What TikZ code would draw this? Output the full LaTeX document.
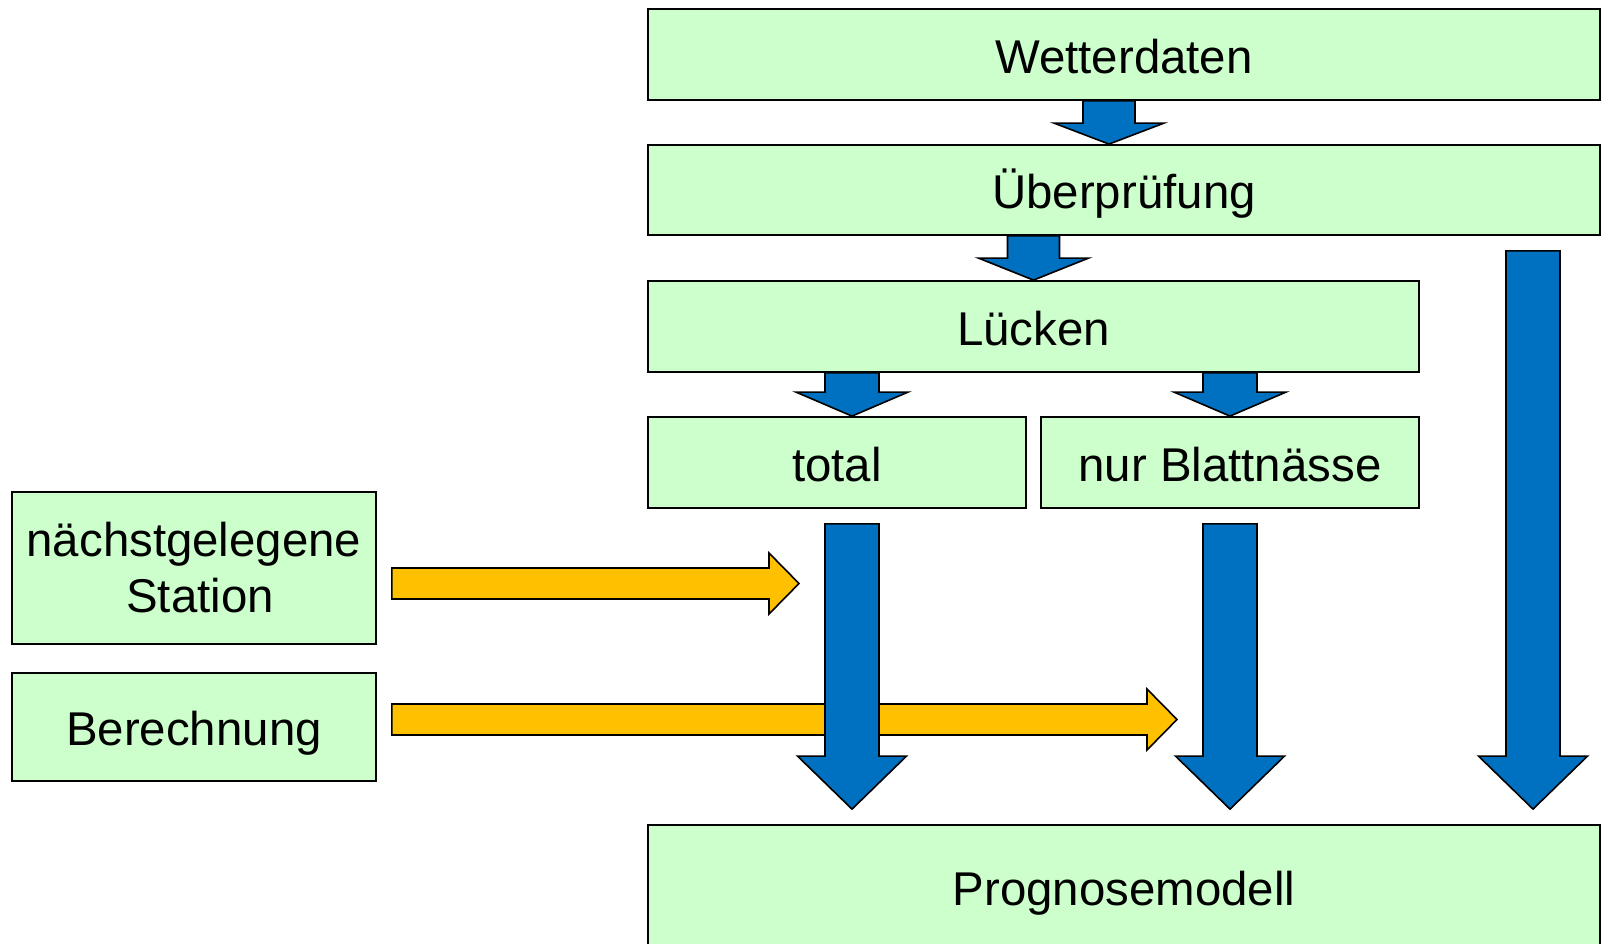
\documentclass[tikz,border=0pt]{standalone}
\usepackage{fontspec}
\setmainfont{Liberation Sans}
\usepackage{tikz}
\usetikzlibrary{calc, positioning}
\definecolor{green1}{RGB}{204,255,204}
\definecolor{blue1}{RGB}{0,112,192}
\definecolor{orange1}{RGB}{255,192,0}
% block arrow pointing down: style, start, tip, half shaft, half head, head length
\newcommand{\blockdown}[6]{%
  \path[#1] let \p1=(#2), \p2=(#3) in
    (\x1-#4,\y1) -- (\x1-#4,\y2+#6) -- (\x1-#5,\y2+#6) -- (\x1,\y2)
    -- (\x1+#5,\y2+#6) -- (\x1+#4,\y2+#6) -- (\x1+#4,\y1) -- cycle;}
% block arrow pointing right: style, start, tip, half shaft, half head, head length
\newcommand{\blockright}[6]{%
  \path[#1] let \p1=(#2), \p2=(#3) in
    (\x1,\y1+#4) -- (\x2-#6,\y1+#4) -- (\x2-#6,\y1+#5) -- (\x2,\y1)
    -- (\x2-#6,\y1-#5) -- (\x2-#6,\y1-#4) -- (\x1,\y1-#4) -- cycle;}

\begin{document}
\begin{tikzpicture}[x=0.5pt, y=-0.5pt,
    boxbase/.style={draw=black, fill=green1, line width=0.9pt, inner sep=0pt,
      font=\fontsize{23.7pt}{28pt}\selectfont, minimum width=476pt, minimum height=45.5pt},
    box/.style={boxbase, text height=21.5pt, text depth=3pt},
    halfbox/.style={box, minimum width=189pt},
    sidebox/.style={boxbase, minimum width=182pt, align=center},
    bluearrow/.style={draw=black, fill=blue1, line width=0.8pt, line join=miter},
    orangearrow/.style={draw=black, fill=orange1, line width=0.8pt, line join=miter}
]
    \useasboundingbox (0,0) rectangle (1602,943);

    % \draw [help lines,step=50] (0,0) grid (1602,943);

    \node[box, name=wetter] at(1124,54.5) {Wetterdaten};
    \node[box, name=pruef, minimum height=45pt] at(1124,190) {Überprüfung};
    \node[box, name=luecken, minimum width=385.5pt] at(1033.5,326.5) {Lücken};
    \node[halfbox, name=total] at(837,462.5) {total};
    \node[halfbox, name=blatt] at(1230,462.5) {nur Blattnässe};
    \node[sidebox, name=station, minimum height=76pt] at(194,568) {nächstgelegene\\\hspace*{6pt}Station};
    \node[sidebox, box, name=berech, minimum width=182pt, minimum height=54pt] at(194,727) {Berechnung};
    \node[box, name=prog, minimum height=62pt] at(1124,887) {Prognosemodell};

    \coordinate (c1) at (1109,0);
    \coordinate (ctot) at (852,0);
    \coordinate (cright) at (1533,0);

    % yellow arrows first, the blue ones lie on top
    \blockright{orangearrow}{$(station.east)+(15,15.5)$}{$(ctot)+(-53,0)$}{7.75pt}{15.25pt}{15pt}
    \blockright{orangearrow}{$(berech.east)+(15,-7.5)$}{$(blatt.center)+(-53,0)$}{7.75pt}{15.25pt}{15pt}

    \blockdown{bluearrow}{wetter.south -| c1}{pruef.north -| c1}{13pt}{27.5pt}{10.5pt}
    \blockdown{bluearrow}{pruef.south -| luecken}{luecken.north}{13pt}{27.5pt}{11pt}
    \blockdown{bluearrow}{luecken.south -| ctot}{total.north -| ctot}{13.5pt}{28pt}{12pt}
    \blockdown{bluearrow}{luecken.south -| blatt}{blatt.north}{13.5pt}{28pt}{12pt}

    \blockdown{bluearrow}{$(total.south -| ctot)+(0,15)$}{$(prog.north -| ctot)+(0,-15)$}{13.5pt}{27.25pt}{26.5pt}
    \blockdown{bluearrow}{$(blatt.south)+(0,15)$}{$(prog.north -| blatt)+(0,-15)$}{13.5pt}{27.25pt}{26.5pt}
    \blockdown{bluearrow}{$(pruef.south -| cright)+(0,15)$}{$(prog.north -| cright)+(0,-15)$}{13.5pt}{27.25pt}{26.5pt}
\end{tikzpicture}
\end{document}
